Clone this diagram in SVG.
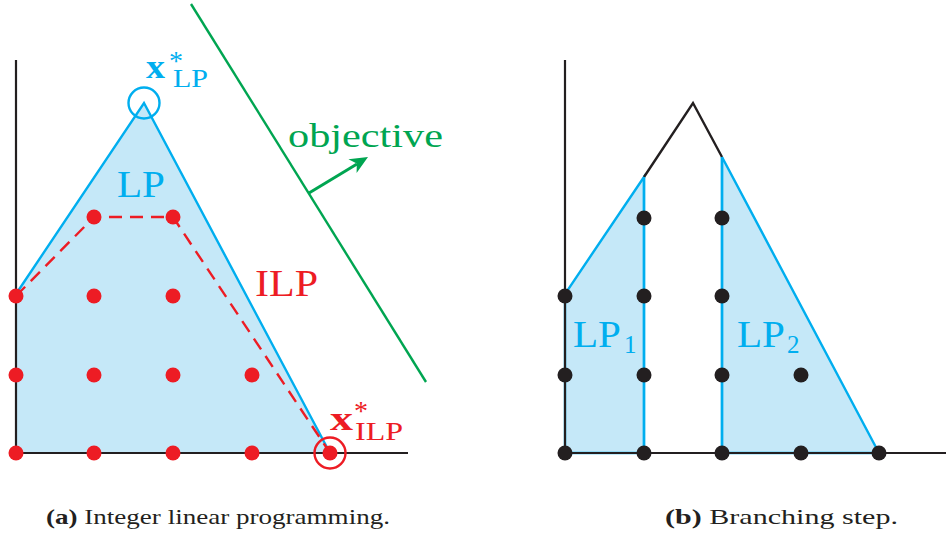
<svg xmlns="http://www.w3.org/2000/svg" width="946" height="537" viewBox="0 0 946 537">
<style>
.axis{stroke:#231f20;stroke-width:2.2;fill:none}
.lp{fill:#c5e8f8;stroke:#00aeef;stroke-width:2.4;stroke-linejoin:miter}
.blue{stroke:#00aeef;stroke-width:2.4;fill:none}
.red{fill:#ed1c24}
.blk{fill:#231f20}
.t{font-family:"Liberation Serif",serif}
</style>
<rect width="946" height="537" fill="#fff"/>

<g id="panel-a">
<polygon points="16,453 16,294 144,103 330,453" fill="#c5e8f8"/>
<polyline class="axis" points="16,60 16,453 408,453"/>
<polyline class="blue" points="16,294 144,103 330,453"/>
<polyline points="16,296 94,217 173,217 330,453" fill="none" stroke="#ed1c24" stroke-width="2.4" stroke-dasharray="13,8"/>
<g class="red">
<circle cx="16" cy="453" r="7.5"/><circle cx="94" cy="453" r="7.5"/><circle cx="173" cy="453" r="7.5"/><circle cx="252" cy="453" r="7.5"/><circle cx="330" cy="453" r="7.5"/>
<circle cx="16" cy="375" r="7.5"/><circle cx="94" cy="375" r="7.5"/><circle cx="173" cy="375" r="7.5"/><circle cx="252" cy="375" r="7.5"/>
<circle cx="16" cy="296" r="7.5"/><circle cx="94" cy="296" r="7.5"/><circle cx="173" cy="296" r="7.5"/>
<circle cx="94" cy="217" r="7.5"/><circle cx="173" cy="217" r="7.5"/>
</g>
<circle cx="144" cy="103" r="15.5" fill="none" stroke="#00aeef" stroke-width="2.4"/>
<circle cx="330" cy="453" r="15.5" fill="none" stroke="#ed1c24" stroke-width="2.4"/>
<line x1="191" y1="4" x2="426" y2="382" stroke="#00a551" stroke-width="2.4"/>
<line x1="309" y1="193" x2="357" y2="164" stroke="#00a551" stroke-width="3"/>
<polygon points="368,157 356.6,173 356.8,163.6 348.4,159.2" fill="#00a551"/>
<text class="t" x="117" y="197" font-size="38" fill="#00aeef" textLength="48" lengthAdjust="spacingAndGlyphs">LP</text>
<text class="t" x="255" y="296" font-size="38" fill="#ed1c24" textLength="63" lengthAdjust="spacingAndGlyphs">ILP</text>
<text class="t" x="288" y="147" font-size="34" fill="#00a551" textLength="155" lengthAdjust="spacingAndGlyphs">objective</text>
<text class="t" x="146" y="78" font-size="34" font-weight="bold" fill="#00aeef" textLength="19" lengthAdjust="spacingAndGlyphs">x</text>
<text class="t" x="169" y="70" font-size="28" fill="#00aeef">*</text>
<text class="t" x="173" y="87" font-size="25" fill="#00aeef" textLength="35" lengthAdjust="spacingAndGlyphs">LP</text>
<text class="t" x="330" y="430" font-size="34" font-weight="bold" fill="#ed1c24" textLength="23" lengthAdjust="spacingAndGlyphs">x</text>
<text class="t" x="354" y="420" font-size="28" fill="#ed1c24">*</text>
<text class="t" x="355" y="440" font-size="25" fill="#ed1c24" textLength="48" lengthAdjust="spacingAndGlyphs">ILP</text>
</g>

<g id="panel-b">
<polygon class="lp" points="565,453 565,294 644,177 644,453"/>
<polygon class="lp" points="722,453 722,157 879,453"/>
<polyline points="644,177 693,103 722,157" fill="none" stroke="#231f20" stroke-width="2.4"/>
<polyline class="axis" points="565,60 565,453 946,453"/>
<line class="blue" x1="644" y1="177" x2="644" y2="453"/>
<line class="blue" x1="722" y1="157" x2="722" y2="453"/>
<g class="blk">
<circle cx="565" cy="453" r="7.5"/><circle cx="644" cy="453" r="7.5"/><circle cx="722" cy="453" r="7.5"/><circle cx="801" cy="453" r="7.5"/><circle cx="879" cy="453" r="7.5"/>
<circle cx="565" cy="375" r="7.5"/><circle cx="644" cy="375" r="7.5"/><circle cx="722" cy="375" r="7.5"/><circle cx="801" cy="375" r="7.5"/>
<circle cx="565" cy="296" r="7.5"/><circle cx="644" cy="296" r="7.5"/><circle cx="722" cy="296" r="7.5"/>
<circle cx="644" cy="218" r="7.5"/><circle cx="722" cy="218" r="7.5"/>
</g>
<text class="t" x="573" y="347" font-size="38" fill="#00aeef" textLength="48" lengthAdjust="spacingAndGlyphs">LP</text>
<text class="t" x="624" y="353" font-size="25" fill="#00aeef">1</text>
<text class="t" x="737" y="347" font-size="38" fill="#00aeef" textLength="48" lengthAdjust="spacingAndGlyphs">LP</text>
<text class="t" x="787" y="353" font-size="25" fill="#00aeef">2</text>
</g>

<g id="captions">
<text class="t" x="46" y="524" font-size="22" fill="#231f20" textLength="344" lengthAdjust="spacingAndGlyphs"><tspan font-weight="bold">(a)</tspan> Integer linear programming.</text>
<text class="t" x="665" y="524" font-size="22" fill="#231f20" textLength="233" lengthAdjust="spacingAndGlyphs"><tspan font-weight="bold">(b)</tspan> Branching step.</text>
</g>
</svg>
